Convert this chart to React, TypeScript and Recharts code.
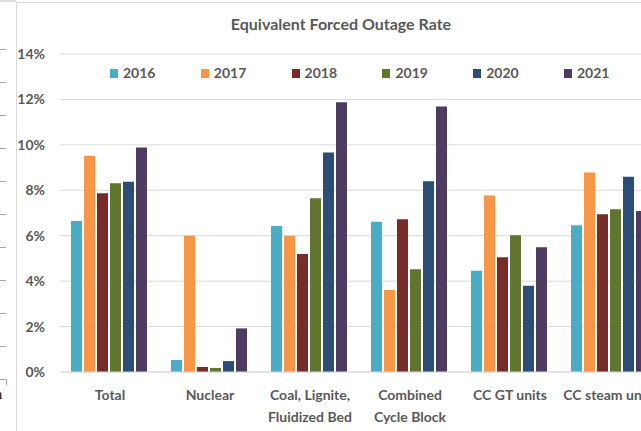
import React from "react";
import { BarChart, Bar, XAxis, YAxis, CartesianGrid } from "recharts";

const categories = [
  "Total",
  "Nuclear",
  "Coal, Lignite,\nFluidized Bed",
  "Combined\nCycle Block",
  "CC GT units",
  "CC steam units",
];

const years = ["2016", "2017", "2018", "2019", "2020", "2021"];
const colors = ["#4BACC6", "#F79646", "#772C2A", "#5F7530", "#2C4D75", "#4D3B62"];

// EFOR in percent, one array per year, same order as categories
const rate2016 = [6.65, 0.53, 6.43, 6.61, 4.46, 6.46];
const rate2017 = [9.52, 6.0, 6.0, 3.61, 7.77, 8.78];
const rate2018 = [7.87, 0.22, 5.2, 6.73, 5.05, 6.95];
const rate2019 = [8.31, 0.18, 7.65, 4.52, 6.02, 7.17];
const rate2020 = [8.38, 0.48, 9.66, 8.4, 3.8, 8.6];
const rate2021 = [9.88, 1.92, 11.88, 11.69, 5.49, 7.09];

const series = [rate2016, rate2017, rate2018, rate2019, rate2020, rate2021];
const yTicks = [0, 2, 4, 6, 8, 10, 12, 14];

const data = categories.map((name, i) => {
  const row: Record<string, string | number> = { name };
  years.forEach((y, k) => {
    row[y] = series[k][i];
  });
  return row;
});

const FONT = "Lato, 'Open Sans', sans-serif";
const GREY = "#595959";

function CategoryTick(props: any) {
  const { x, y, payload } = props;
  const lines = String(payload.value).split("\n");
  return (
    <text x={x} y={y} textAnchor="middle" fill={GREY} fontSize={14} fontWeight={700} fontFamily={FONT}>
      {lines.map((line, i) => (
        <tspan key={i} x={x} dy={i === 0 ? 28 : 21.5}>
          {line}
        </tspan>
      ))}
    </text>
  );
}

// legend sits inside the plot, between the 14% and 12% gridlines
function YearLegend() {
  return (
    <div style={{ position: "absolute", left: 94, top: 65, display: "flex", fontFamily: FONT }}>
      {years.map((y, i) => (
        <div key={y} style={{ width: 90.8, display: "flex", alignItems: "center", flexShrink: 0 }}>
          <span style={{ width: 8, height: 9, background: colors[i], marginRight: 5 }} />
          <span style={{ fontSize: 14, fontWeight: 700, color: GREY, lineHeight: "16px" }}>{y}</span>
        </div>
      ))}
    </div>
  );
}

// bits of the neighbouring chart visible at the left edge of the crop
const sideTicks = [49, 82, 115, 148, 181, 214, 247, 280, 313, 346];

export default function App() {
  return (
    <div
      style={{
        position: "fixed",
        left: 0,
        top: 0,
        width: 641,
        height: 431,
        overflow: "hidden",
        background: "#fff",
      }}
    >
      <svg width={17} height={431} style={{ position: "absolute", left: 0, top: 0 }}>
        <line x1={0} y1={1} x2={16} y2={1} stroke="#BFBFBF" />
        {sideTicks.map((t) => (
          <line key={t} x1={0} y1={t + 0.5} x2={6} y2={t + 0.5} stroke="#A6A6A6" />
        ))}
        <polyline points="0,379.5 6.5,379.5 6.5,385" fill="none" stroke="#A6A6A6" />
        <text x={-4} y={399} fontSize={14} fontFamily="serif" fill="#000">
          a
        </text>
        <line x1={16.5} y1={2} x2={16.5} y2={431} stroke="#D9D9D9" />
      </svg>
      <div style={{ position: "absolute", left: 16, top: 2, width: 650, height: 1, background: "#D9D9D9" }} />
      <div style={{ position: "absolute", left: 16, top: 0, width: 650, height: 431 }}>
        <BarChart
          width={650}
          height={431}
          data={data}
          margin={{ top: 54, right: 6, bottom: 9, left: 0 }}
          barCategoryGap="11%"
          barGap={2}
        >
          <CartesianGrid vertical={false} stroke="#D9D9D9" />
          <XAxis
            dataKey="name"
            height={50}
            tickLine={false}
            tickSize={0}
            tickMargin={0}
            axisLine={{ stroke: "#D9D9D9" }}
            interval={0}
            tick={<CategoryTick />}
          />
          <YAxis
            width={44}
            domain={[0, 14]}
            ticks={yTicks}
            tickFormatter={(v) => `${v}%`}
            axisLine={false}
            tickLine={false}
            tickMargin={9}
            tick={{ fill: GREY, fontSize: 14, fontWeight: 700, fontFamily: FONT }}
          />
          {years.map((y, i) => (
            <Bar key={y} dataKey={y} fill={colors[i]} isAnimationActive={false} />
          ))}
        </BarChart>
        <YearLegend />
        <svg width={650} height={40} style={{ position: "absolute", left: 0, top: 0, pointerEvents: "none" }}>
          <text x={325} y={30} textAnchor="middle" fill={GREY} fontSize={16} fontWeight={700} fontFamily={FONT}>
            Equivalent Forced Outage Rate
          </text>
        </svg>
      </div>
    </div>
  );
}
